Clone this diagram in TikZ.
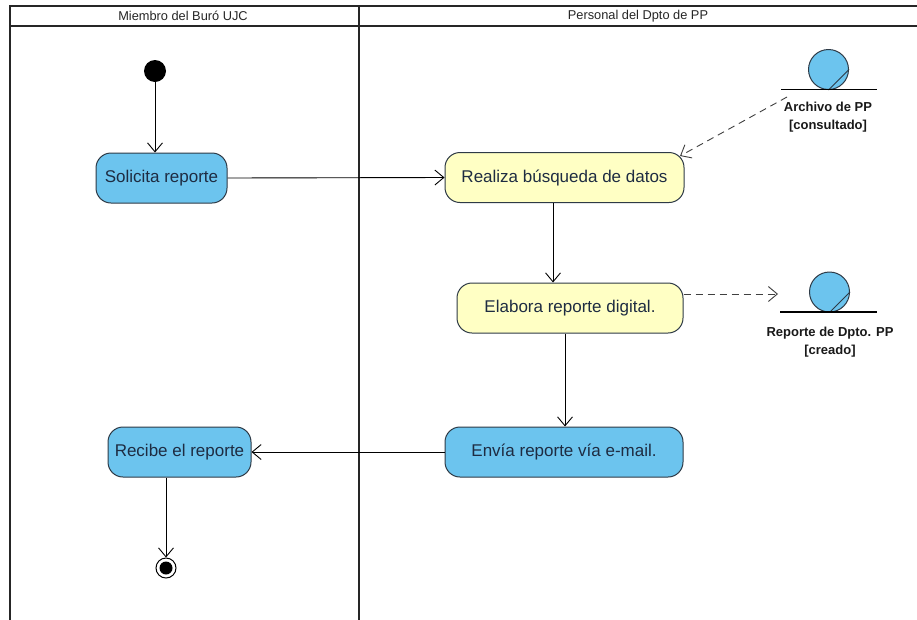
\documentclass[tikz,border=0pt]{standalone}
\usepackage{fontspec}
\setmainfont{Liberation Sans}
\usetikzlibrary{arrows.meta}
\definecolor{actblue}{HTML}{6CC4EE}
\definecolor{actyellow}{HTML}{FFFFC4}
\definecolor{actborder}{HTML}{2E3A46}
\definecolor{acttext}{HTML}{1E2C42}
\tikzset{
  actbox/.style={draw=actborder, line width=1pt, rounded corners=15pt, minimum height=50pt,
    inner sep=0pt, font=\fontsize{17}{19}\selectfont, text=acttext},
  bluebox/.style={actbox, fill=actblue},
  yellowbox/.style={actbox, fill=actyellow},
  flow/.style={draw=black, line width=0.9pt, -{Straight Barb[length=9pt,width=15pt,line width=0.9pt]}},
  depflow/.style={flow, dash pattern=on 7pt off 5pt, draw=black!75},
  lane/.style={draw=black!85, line width=2pt},
  lanetitle/.style={font=\fontsize{12.8}{14}\selectfont, text=black!85},
  objlabel/.style={font=\bfseries\fontsize{13}{18}\selectfont, align=center, text=black!90},
  objcircle/.style={draw=actborder, line width=1pt, fill=actblue, circle, minimum size=40pt, inner sep=0pt}
}
\begin{document}
\begin{tikzpicture}[x=1pt,y=-1pt]
\useasboundingbox (0,0) rectangle (917,619);
\fill[white] (0,0) rectangle (917,619);
% swimlanes
\draw[lane] (10,630) -- (10,6) -- (930,6);
\draw[lane] (10,26) -- (930,26);
\draw[lane] (359,6) -- (359,630);
\node[lanetitle] (lane1) at (183,16) {Miembro del Buró UJC};
\node[lanetitle] (lane2) at (638,16) {Personal del Dpto de PP};
% activity nodes
\node[circle, fill=black, minimum size=22pt, inner sep=0pt] (start) at (155,71) {};
\node[bluebox, minimum width=131pt] (solicita) at (161.5,178) {Solicita reporte};
\node[yellowbox, minimum width=239pt] (realiza) at (564.5,177.5) {Realiza búsqueda de datos};
\node[yellowbox, minimum width=226pt] (elabora) at (570,308) {Elabora reporte digital.};
\node[bluebox, minimum width=238pt] (envia) at (564,452) {Envía reporte vía e-mail.};
\node[bluebox, minimum width=143pt] (recibe) at (179.5,452) {Recibe el reporte};
\node[circle, draw=black, line width=1pt, fill=white, minimum size=20pt, inner sep=0pt] (finish) at (166,568) {};
\fill[black] (finish.center) circle (6.5pt);
% object nodes
\node[objcircle] (archivo) at (828.5,69.5) {};
\draw[actborder, line width=0.9pt] (archivo.south) -- (archivo.east);
\draw[black, line width=1.2pt] (781,89.5) coordinate (archL) -- (877,89.5) coordinate (archR);
\node[objlabel] (archivolbl) at (828,117) {Archivo de PP\\\relax [consultado]};
\node[objcircle] (reporteobj) at (829.5,292) {};
\draw[actborder, line width=0.9pt] (reporteobj.south) -- (reporteobj.east);
\draw[black, line width=1.2pt] (780,312) coordinate (repL) -- (877,312) coordinate (repR);
\node[objlabel] (reportelbl) at (830,342) {Reporte de Dpto. PP\\\relax [creado]};
% flows
\draw[flow] (start) -- (start |- solicita.north);
\draw[flow] (solicita.east) -- (realiza.west);
\draw[flow] ([xshift=-11.5pt]realiza.south) -- ([xshift=-11.5pt]realiza.south |- elabora.north);
\draw[flow] ([xshift=-5pt]elabora.south) -- ([xshift=-5pt]elabora.south |- envia.north);
\draw[flow] (envia.west) -- (recibe.east);
\draw[flow] (finish |- recibe.south) -- (finish.north);
% object flows
\coordinate (archfrom) at (787,97);
\coordinate (realizaTR) at (680,156);
\draw[depflow] (archfrom) -- (realizaTR);
\coordinate (repto) at (778,294);
\draw[depflow] (elabora.east |- repto) -- (repto);
\end{tikzpicture}
\end{document}
